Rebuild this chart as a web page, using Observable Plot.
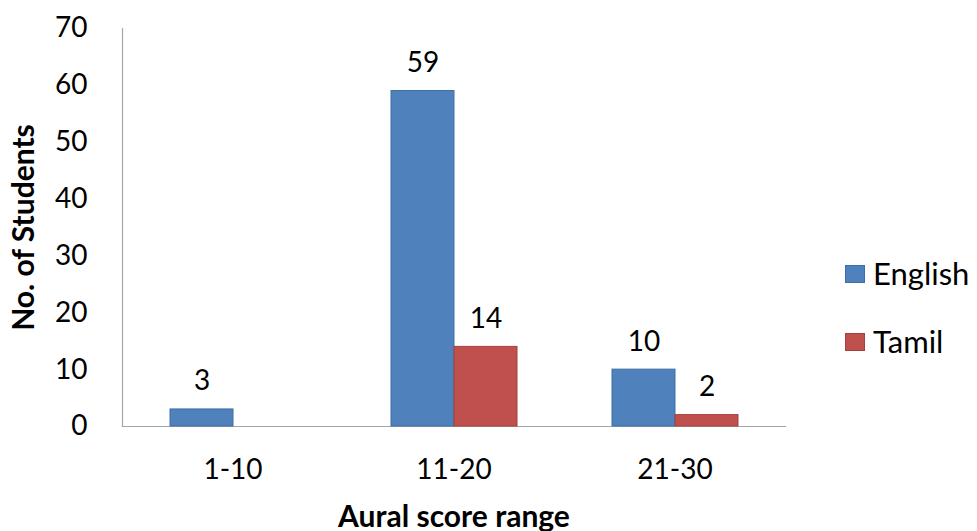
<!DOCTYPE html>
<html>
<head>
<meta charset="utf-8">
<script src="https://cdn.jsdelivr.net/npm/d3@7"></script>
<script src="https://cdn.jsdelivr.net/npm/@observablehq/plot@0.6"></script>
<style>
  body { margin: 0; background: #fff; }
  #chart { position: relative; width: 977px; height: 531px; font-family: Lato, "Open Sans", sans-serif; overflow: hidden; }
  #chart svg g[aria-label="y-axis label"] text,
  #chart svg g[aria-label="fx-axis label"] text { font-weight: bold; font-size: 30px; }
  .legend { position: absolute; left: 845px; top: 0; }
  .legend .item { position: absolute; left: 0; display: flex; align-items: center; white-space: nowrap; }
  .legend .swatch { width: 20px; height: 18px; box-sizing: border-box; margin-right: 8px; }
  .legend .label { font-size: 31px; color: #000; line-height: 1; }
</style>
</head>
<body>
<div id="chart"></div>
<script>
// Score ranges on the x axis and the two language groups
const categories = ["1-10", "11-20", "21-30"];
const series = ["English", "Tamil"];

// Number of students in each range
const english = [3, 59, 10];
const tamil = [0, 14, 2];

// Y axis tick values
const yTicks = [0, 10, 20, 30, 40, 50, 60, 70];

const fills = { English: "#4F81BD", Tamil: "#C0504D" };
const strokes = { English: "#3f6ea6", Tamil: "#a3403d" };

// Long-format rows for Plot
const rows = categories.flatMap((c, i) => [
  { range: c, language: "English", value: english[i] },
  { range: c, language: "Tamil", value: tamil[i] }
]).filter(d => d.value > 0);

const barsFor = (lang) => Plot.barY(rows.filter(d => d.language === lang), {
  fx: "range", x: "language", y: "value",
  fill: fills[lang], stroke: strokes[lang], strokeWidth: 1
});

const chart = Plot.plot({
  width: 977,
  height: 531,
  marginLeft: 121,
  marginRight: 191,
  marginTop: 28,
  marginBottom: 105,
  style: { fontFamily: "Lato, 'Open Sans', sans-serif", fontSize: "28px", color: "#000", background: "#fff", overflow: "visible" },
  fx: { domain: categories, padding: 0, label: null, axis: null },
  x: { domain: series, paddingInner: 0, paddingOuter: 0.748, axis: null },
  y: { domain: [0, 70], axis: null },
  marks: [
    Plot.frame({ anchor: "bottom", stroke: "#a6a6a6", strokeWidth: 1.2 }),
    Plot.frame({ anchor: "left", stroke: "#a6a6a6", strokeWidth: 1.2, facetAnchor: "left" }),
    barsFor("English"),
    barsFor("Tamil"),
    Plot.text(rows, {
      fx: "range", x: "language", y: "value",
      text: d => String(d.value),
      lineAnchor: "bottom", dy: -19, fontSize: 28, fill: "#000"
    }),
    Plot.axisY({
      ticks: yTicks, tickSize: 0, tickPadding: 35, fontSize: 28,
      label: "No. of Students", labelAnchor: "center", labelArrow: "none", labelOffset: 110
    }),
    Plot.axisFx({
      anchor: "bottom", tickSize: 0, tickPadding: 33, fontSize: 28,
      label: "Aural score range", labelAnchor: "center", labelArrow: "none", labelOffset: 100
    })
  ]
});

const host = document.getElementById("chart");
host.appendChild(chart);

// Legend to the right of the plot area
const legend = document.createElement("div");
legend.className = "legend";
const legendTops = { English: 265, Tamil: 333 };
for (const s of series) {
  const item = document.createElement("div");
  item.className = "item";
  item.style.top = (legendTops[s] - 7) + "px";
  const sw = document.createElement("span");
  sw.className = "swatch";
  sw.style.background = fills[s];
  sw.style.border = "1px solid " + strokes[s];
  const lb = document.createElement("span");
  lb.className = "label";
  lb.textContent = s;
  item.appendChild(sw);
  item.appendChild(lb);
  legend.appendChild(item);
}
host.appendChild(legend);
</script>
</body>
</html>
